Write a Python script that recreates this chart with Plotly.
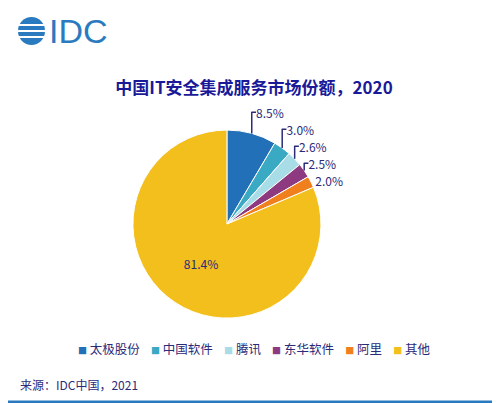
import plotly.graph_objs as go

labels = ['太极股份', '中国软件', '腾讯', '东华软件', '阿里', '其他']
shares = [8.5, 3.0, 2.6, 2.5, 2.0, 81.4]
colors = ['#2170b8', '#3aa9c4', '#a8dde8', '#8e3a80', '#f07f1d', '#f2bf1c']
title = '中国IT安全集成服务市场份额，2020'
source = '来源：IDC中国，2021'

W, H = 492, 395

fig = go.Figure(go.Pie(
    labels=labels, values=shares, sort=False, direction='clockwise', rotation=0,
    marker=dict(colors=colors, line=dict(color='white', width=1)),
    texttemplate='%{value:.1f}%', textinfo='text',
    textposition=['outside'] * 5 + ['inside'],
    insidetextorientation='horizontal',
    textfont=dict(family='Noto Sans CJK SC', size=12, color='#2b2b7a'),
    domain=dict(x=[0.18, 0.71], y=[0.215, 0.691]),
))

fig.update_layout(
    width=W, height=H, margin=dict(l=0, r=0, t=0, b=0),
    paper_bgcolor='white', font=dict(family='Noto Sans CJK SC'),
    showlegend=False,
    title=dict(text='<b>' + title + '</b>', x=0.5, xanchor='center', y=0.797, yanchor='middle',
               font=dict(size=17, color='#1a1a99')),
)

# legend drawn as one line of text
legend_text = '&nbsp;&nbsp;&nbsp;&nbsp;'.join(
    f'<span style="color:{c};font-size:9px">■</span> {l}' for l, c in zip(labels, colors))
fig.add_annotation(text=legend_text, xref='paper', yref='paper', x=0.5, y=0.137,
                   xanchor='center', yanchor='middle', showarrow=False,
                   font=dict(size=12.5, color='#2b2b7a'))

# frame and logo
fig.add_shape(type='rect', xref='paper', yref='paper', x0=-0.01, x1=0.997, y0=0.003, y1=1.01,
              line=dict(color='#2a7abf', width=2.5))
fig.add_shape(type='circle', xref='paper', yref='paper', x0=10 / W, x1=37 / W,
              y0=1 - 37 / H, y1=1 - 9 / H, fillcolor='#2a7abf', line=dict(width=0))
for py in [17, 23, 29]:
    fig.add_shape(type='line', xref='paper', yref='paper', x0=6 / W, x1=41 / W,
                  y0=1 - py / H, y1=1 - py / H, line=dict(color='white', width=2))
fig.add_annotation(text='IDC', xref='paper', yref='paper', x=39 / W, y=1 - 23 / H, xanchor='left',
                   yanchor='middle', showarrow=False,
                   font=dict(family='Liberation Sans', size=34, color='#2a7abf'))
fig.add_annotation(text=source, xref='paper', yref='paper', x=0.02, y=0.046, xanchor='left',
                   yanchor='middle', showarrow=False, font=dict(size=12, color='#2b2b7a'))

fig.write_html('out.html')
